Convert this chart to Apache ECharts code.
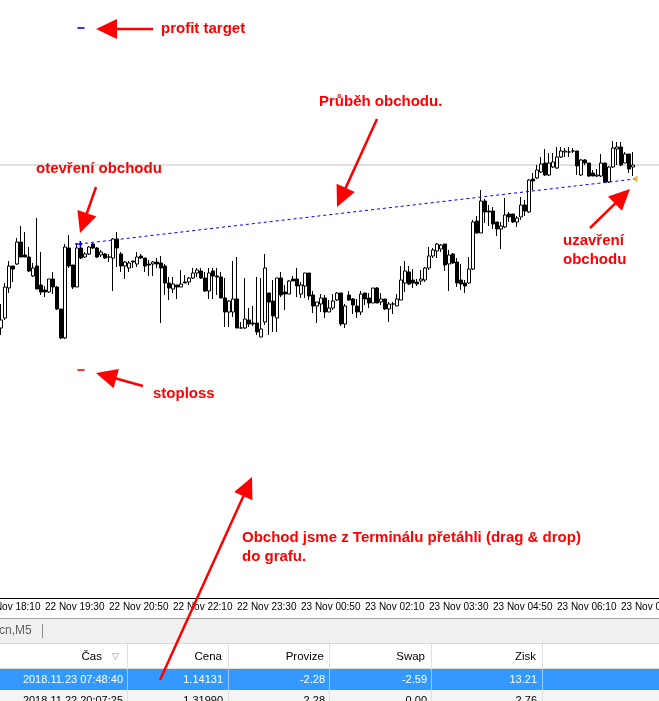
<!DOCTYPE html>
<html><head><meta charset="utf-8">
<script src="https://cdn.jsdelivr.net/npm/echarts@6/dist/echarts.min.js"></script>
<style>html,body{margin:0;padding:0;background:#fff;overflow:hidden}#c{width:659px;height:701px}</style>
</head><body><div id="c"></div><script>
// first category 22 Nov 18:10, M5 bars; first candle at 22 Nov 18:35 (category index 5)
const firstCandleIndex = 5;
const opens = [1.13982,1.13992,1.14022,1.14044,1.14046,1.14068,1.14055,1.14053,1.14034,1.14044,
1.14025,1.14020,1.14018,1.14031,1.14023,1.14001,1.13972,1.14062,1.14045,1.14023,
1.14062,1.14053,1.14056,1.14066,1.14062,1.14055,1.14056,1.14053,1.14052,1.14071,
1.14056,1.14044,1.14042,1.14049,1.14046,1.14054,1.14052,1.14046,1.14046,1.14048,
1.14047,1.14044,1.14027,1.14021,1.14025,1.14023,1.14028,1.14028,1.14032,1.14037,
1.14039,1.14032,1.14019,1.14039,1.14034,1.14033,1.14012,1.13998,1.13998,1.14011,
1.13982,1.13982,1.13990,1.13987,1.13987,1.13973,1.13988,1.14017,1.14009,1.13992,
1.14032,1.14018,1.14016,1.14031,1.14031,1.14016,1.14024,1.14037,1.14015,1.14004,
1.14006,1.14012,1.13998,1.14002,1.14010,1.14017,1.13986,1.14015,1.14011,1.14004,
1.13998,1.14017,1.14012,1.14007,1.14022,1.14008,1.14011,1.14001,1.14006,1.14004,
1.14010,1.14027,1.14038,1.14030,1.14028,1.14029,1.14030,1.14042,1.14054,1.14059,
1.14061,1.14066,1.14046,1.14056,1.14048,1.14030,1.14027,1.14027,1.14041,1.14089,
1.14077,1.14109,1.14099,1.14099,1.14088,1.14081,1.14083,1.14096,1.14096,1.14088,
1.14093,1.14105,1.14098,1.14131,1.14132,1.14138,1.14147,1.14135,1.14143,1.14142,
1.14153,1.14158,1.14158,1.14159,1.14159,1.14135,1.14150,1.14147,1.14137,1.14134,
1.14134,1.14147,1.14128,1.14143,1.14161,1.14163,1.14147,1.14156,1.14143];
const closes = [1.13990,1.14023,1.14044,1.14041,1.14068,1.14053,1.14053,1.14039,1.14042,1.14021,
1.14018,1.14018,1.14031,1.14023,1.14001,1.13972,1.14063,1.14044,1.14023,1.14062,
1.14052,1.14056,1.14063,1.14062,1.14053,1.14058,1.14052,1.14053,1.14071,1.14062,
1.14044,1.14048,1.14047,1.14048,1.14053,1.14052,1.14044,1.14045,1.14048,1.14046,
1.14042,1.14027,1.14022,1.14026,1.14023,1.14026,1.14027,1.14032,1.14037,1.14040,
1.14032,1.14019,1.14037,1.14034,1.14033,1.14012,1.13998,1.14009,1.14011,1.13982,
1.13982,1.13991,1.13986,1.13986,1.13978,1.13981,1.14042,1.14008,1.13994,1.14032,
1.14015,1.14016,1.14029,1.14029,1.14024,1.14025,1.14037,1.14014,1.14004,1.14008,
1.14012,1.13998,1.14002,1.14009,1.14017,1.13986,1.14004,1.14010,1.14005,1.13998,
1.14016,1.14011,1.14007,1.14022,1.14007,1.14011,1.14001,1.14006,1.14006,1.14011,
1.14030,1.14039,1.14026,1.14027,1.14026,1.14031,1.14042,1.14054,1.14060,1.14066,
1.14065,1.14045,1.14055,1.14047,1.14027,1.14026,1.14024,1.14041,1.14088,1.14077,
1.14109,1.14098,1.14098,1.14086,1.14081,1.14084,1.14095,1.14093,1.14088,1.14092,
1.14105,1.14099,1.14130,1.14129,1.14140,1.14146,1.14135,1.14147,1.14148,1.14153,
1.14159,1.14159,1.14158,1.14159,1.14144,1.14150,1.14147,1.14134,1.14134,1.14135,
1.14147,1.14128,1.14143,1.14162,1.14163,1.14145,1.14156,1.14141,1.14145];
const lows = [1.13975,1.13990,1.14017,1.14028,1.14045,1.14053,1.14053,1.14038,1.14033,1.14021,
1.14015,1.14013,1.14017,1.14016,1.14000,1.13971,1.13971,1.14042,1.14021,1.14023,
1.14051,1.14052,1.14055,1.14061,1.14052,1.14053,1.14051,1.14048,1.14019,1.14043,
1.14038,1.14031,1.14038,1.14042,1.14043,1.14051,1.14038,1.14034,1.14034,1.14042,
1.13987,1.14015,1.14010,1.14017,1.14011,1.14023,1.14027,1.14025,1.14031,1.14033,
1.14031,1.14018,1.14011,1.14011,1.14015,1.14012,1.13983,1.13983,1.13993,1.13982,
1.13982,1.13981,1.13983,1.13984,1.13975,1.13973,1.13985,1.13975,1.13978,1.13978,
1.14013,1.14000,1.14016,1.14029,1.14013,1.14012,1.14012,1.14010,1.13997,1.13987,
1.13998,1.13992,1.13998,1.14000,1.14009,1.13984,1.13982,1.14009,1.13996,1.13992,
1.13995,1.14005,1.14002,1.14007,1.14007,1.14005,1.14000,1.13988,1.13996,1.14004,
1.14010,1.14018,1.14025,1.14022,1.14024,1.14025,1.14028,1.14040,1.14052,1.14052,
1.14058,1.14039,1.14019,1.14046,1.14023,1.14020,1.14017,1.14026,1.14040,1.14076,
1.14077,1.14087,1.14084,1.14081,1.14074,1.14061,1.14082,1.14088,1.14087,1.14083,
1.14090,1.14094,1.14097,1.14120,1.14131,1.14137,1.14134,1.14134,1.14142,1.14141,
1.14152,1.14153,1.14153,1.14157,1.14135,1.14134,1.14145,1.14133,1.14134,1.14133,
1.14133,1.14127,1.14127,1.14142,1.14145,1.14144,1.14147,1.14137,1.14134];
const highs = [1.14006,1.14027,1.14049,1.14044,1.14072,1.14084,1.14078,1.14063,1.14047,1.14092,
1.14058,1.14024,1.14031,1.14038,1.14024,1.14001,1.14066,1.14075,1.14045,1.14067,
1.14069,1.14058,1.14064,1.14067,1.14063,1.14060,1.14057,1.14056,1.14072,1.14078,
1.14058,1.14049,1.14049,1.14049,1.14058,1.14056,1.14052,1.14050,1.14049,1.14052,
1.14054,1.14046,1.14033,1.14033,1.14025,1.14040,1.14035,1.14033,1.14042,1.14042,
1.14042,1.14038,1.14042,1.14042,1.14042,1.14038,1.14032,1.14010,1.14049,1.14053,
1.13988,1.14032,1.14002,1.14004,1.14033,1.14032,1.14056,1.14017,1.14030,1.14032,
1.14038,1.14025,1.14030,1.14034,1.14042,1.14028,1.14037,1.14037,1.14019,1.14008,
1.14016,1.14015,1.14010,1.14016,1.14018,1.14017,1.14006,1.14019,1.14012,1.14011,
1.14019,1.14017,1.14017,1.14022,1.14023,1.14017,1.14011,1.14008,1.14008,1.14016,
1.14044,1.14049,1.14044,1.14041,1.14031,1.14040,1.14043,1.14063,1.14062,1.14067,
1.14066,1.14066,1.14060,1.14057,1.14052,1.14046,1.14030,1.14053,1.14090,1.14094,
1.14120,1.14111,1.14105,1.14103,1.14088,1.14088,1.14112,1.14098,1.14096,1.14094,
1.14113,1.14110,1.14131,1.14137,1.14145,1.14153,1.14161,1.14157,1.14157,1.14163,
1.14163,1.14162,1.14163,1.14162,1.14159,1.14151,1.14151,1.14147,1.14140,1.14141,
1.14156,1.14147,1.14144,1.14169,1.14168,1.14168,1.14158,1.14156,1.14158];
const tickLabels = ['22 Nov 18:10','22 Nov 19:30','22 Nov 20:50','22 Nov 22:10','22 Nov 23:30','23 Nov 00:50','23 Nov 02:10','23 Nov 03:30','23 Nov 04:50','23 Nov 06:10','23 Nov 07:30'];
const tpPrice = 1.14282, slPrice = 1.13940, bidPrice = 1.14145;
const openBar = 24.5, openPrice = 1.14066;
const closeBar = 163.5, closePrice = 1.14131;
const levelBar = 25;
const tableHeader = ['Čas','Cena','Provize','Swap','Zisk'];
const row1 = ['2018.11.23 07:48:40','1.14131','-2.28','-2.59','13.21'];
const row2 = ['2018.11.22 20:07:25','1.31990','-2.28','0.00','2.76'];

const N = 170;
const pad = n => (n < 10 ? '0' : '') + n;
const categories = [];
for (let i = 0; i < N; i++) {
  const m = 18 * 60 + 10 + 5 * i;
  const day = m >= 1440 ? 23 : 22;
  const mm = m % 1440;
  categories.push(day + ' Nov ' + pad(Math.floor(mm / 60)) + ':' + pad(mm % 60));
}
const candleData = categories.map((c, i) => {
  const k = i - firstCandleIndex;
  return (k >= 0 && k < opens.length) ? [opens[k], closes[k], lows[k], highs[k]] : ['-', '-', '-', '-'];
});
const labelEvery = (i) => i % 16 === 0;

const RED = '#ff0000';
const F = '"Liberation Sans", Arial, sans-serif';
function arrow(x1, y1, x2, y2) {
  const dx = x2 - x1, dy = y2 - y1, L = Math.hypot(dx, dy), ux = dx / L, uy = dy / L, hl = 21, hw = 10;
  const bx = x2 - ux * hl, by = y2 - uy * hl;
  return [
    {type: 'line', z: 200, shape: {x1: x1, y1: y1, x2: bx + ux * 3, y2: by + uy * 3}, style: {stroke: RED, lineWidth: 2.5}},
    {type: 'polygon', z: 200, shape: {points: [[x2, y2], [bx - uy * hw, by + ux * hw], [bx + uy * hw, by - ux * hw]]}, style: {fill: RED}}
  ];
}
function txt(t, x, y, opts) {
  return Object.assign({type: 'text', z: 200, x: x, y: y, style: Object.assign({text: t, fill: RED, font: 'bold 15px ' + F, align: 'left', verticalAlign: 'middle'}, opts || {})});
}
const g = [];
// bottom panel
g.push({type: 'rect', z: 100, shape: {x: 0, y: 618, width: 659, height: 1}, style: {fill: '#a0a0a0'}});
g.push({type: 'rect', z: 100, shape: {x: 0, y: 619, width: 659, height: 24}, style: {fill: '#f0f0f0'}});
g.push(txt('cn,M5', -1, 631, {fill: '#606060', font: '12px ' + F}));
g.push({type: 'line', z: 101, shape: {x1: 42.5, y1: 624, x2: 42.5, y2: 638}, style: {stroke: '#909090', lineWidth: 1}});
g.push({type: 'rect', z: 100, shape: {x: 0, y: 643, width: 659, height: 1}, style: {fill: '#d8d8d8'}});
g.push({type: 'rect', z: 100, shape: {x: 0, y: 644, width: 659, height: 24}, style: {fill: '#ffffff'}});
g.push({type: 'rect', z: 100, shape: {x: 0, y: 668, width: 659, height: 1}, style: {fill: '#e0e0e0'}});
g.push({type: 'rect', z: 100, shape: {x: 0, y: 669, width: 659, height: 21}, style: {fill: '#3399ff'}});
g.push({type: 'rect', z: 100, shape: {x: 0, y: 690, width: 659, height: 11}, style: {fill: '#f4f4f4'}});
const seps = [127, 228, 329, 431, 542];
const hdrRight = [102, 222, 324, 425, 536];
const valRight = [123, 223, 325, 427, 537];
seps.forEach(x => {
  g.push({type: 'line', z: 101, shape: {x1: x + 0.5, y1: 644, x2: x + 0.5, y2: 668}, style: {stroke: '#e0e0e0', lineWidth: 1}});
  g.push({type: 'line', z: 101, shape: {x1: x + 0.5, y1: 669, x2: x + 0.5, y2: 690}, style: {stroke: '#9cc8f5', lineWidth: 1}});
  g.push({type: 'line', z: 101, shape: {x1: x + 0.5, y1: 690, x2: x + 0.5, y2: 701}, style: {stroke: '#e0e0e0', lineWidth: 1}});
});
tableHeader.forEach((t, j) => g.push(txt(t, hdrRight[j], 657, {fill: '#000', font: '11.5px ' + F, align: 'right'})));
g.push(txt('▽', 115, 657, {fill: '#909090', font: '9px ' + F, align: 'center'}));
row1.forEach((t, j) => g.push(txt(t, valRight[j], 680, {fill: '#ffffff', font: '11px ' + F, align: 'right'})));
row2.forEach((t, j) => g.push(txt(t, valRight[j], 701, {fill: '#000', font: '11px ' + F, align: 'right'})));
// annotations
g.push(txt('profit target', 161, 29));
g.push(txt('Průběh obchodu.', 319, 102));
g.push(txt('otevření obchodu', 36, 169));
g.push(txt('uzavření', 563, 241));
g.push(txt('obchodu', 563, 260));
g.push(txt('stoploss', 153, 394));
g.push(txt('Obchod jsme z Terminálu přetáhli (drag & drop)', 242, 538));
g.push(txt('do grafu.', 242, 557));
[[153, 29, 96, 29], [377, 119, 337, 207], [96, 187, 80, 233], [590, 228, 630, 189], [143, 386, 96, 373], [160, 680, 252, 477]]
  .forEach(a => arrow(a[0], a[1], a[2], a[3]).forEach(e => g.push(e)));

const chart = echarts.init(document.getElementById('c'), null, {renderer: 'canvas'});
chart.setOption({
  animation: false,
  backgroundColor: '#ffffff',
  grid: {left: -21, right: 0, top: 0, bottom: 103, containLabel: false, outerBoundsMode: 'none'},
  xAxis: [
    {type: 'category', data: categories, boundaryGap: true,
     axisLine: {lineStyle: {color: '#000', width: 1}},
     axisTick: {alignWithLabel: true, length: 5, interval: labelEvery, lineStyle: {color: '#000'}},
     axisLabel: {interval: labelEvery, align: 'left', color: '#000', fontSize: 10, fontFamily: 'Liberation Sans', margin: 4, hideOverlap: false},
     splitLine: {show: false}},
    {type: 'value', min: -0.5, max: N - 0.5, show: false}
  ],
  yAxis: {type: 'value', min: 1.13712, max: 1.14310, show: false, splitLine: {show: false}},
  series: [
    {type: 'line', xAxisIndex: 1, silent: true, symbol: 'none', data: [[-0.5, bidPrice], [N - 0.5, bidPrice]],
     lineStyle: {color: '#c0c0c0', width: 1, type: 'solid'}, z: 1},
    {type: 'candlestick', xAxisIndex: 0, data: candleData, barWidth: 3, silent: true, z: 2,
     itemStyle: {color: '#ffffff', color0: '#000000', borderColor: '#000000', borderColor0: '#000000', borderWidth: 1}},
    {type: 'line', xAxisIndex: 1, silent: true, symbol: 'none', data: [[openBar, openPrice], [closeBar, closePrice]],
     lineStyle: {color: '#0000ff', width: 1, type: [3, 3]}, z: 3},
    {type: 'scatter', xAxisIndex: 1, silent: true, symbol: 'rect', symbolSize: [7, 2], data: [[levelBar, tpPrice]], itemStyle: {color: '#0000ff'}},
    {type: 'scatter', xAxisIndex: 1, silent: true, symbol: 'rect', symbolSize: [7, 2], data: [[levelBar, slPrice]], itemStyle: {color: '#ff0000'}},
    {type: 'scatter', xAxisIndex: 1, silent: true, symbol: 'path://M0,3 L5,3 L5,0 L9,4 L5,8 L5,5 L0,5 Z', symbolSize: [8, 7],
     data: [[openBar, openPrice]], itemStyle: {color: '#0000ff'}, z: 4},
    {type: 'scatter', xAxisIndex: 1, silent: true, symbol: 'triangle', symbolRotate: 90, symbolSize: [7, 5],
     data: [[closeBar, closePrice]], itemStyle: {color: '#daa520'}, z: 4}
  ],
  graphic: g
});
</script></body></html>
